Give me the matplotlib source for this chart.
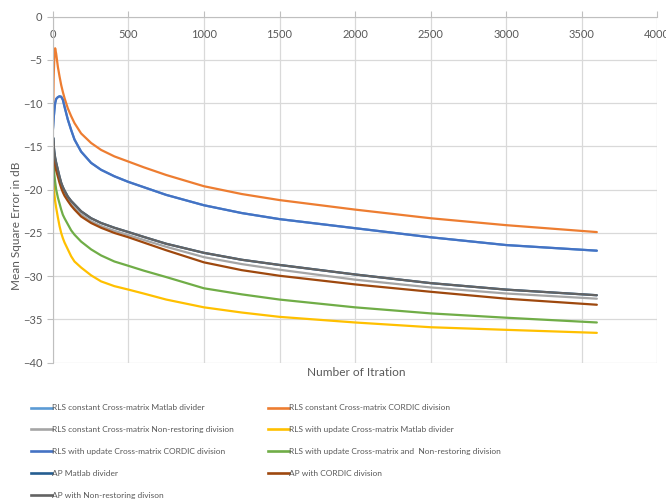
import matplotlib
matplotlib.use("Agg")
import matplotlib.pyplot as plt
from matplotlib.lines import Line2D

plt.rcParams['font.family'] = ['Lato', 'DejaVu Sans']

iterations = [0, 2, 5, 10, 15, 22, 33, 44, 55, 66, 77, 99, 121, 143, 187, 253, 319, 407, 500,
              600, 750, 1000, 1250, 1500, 2000, 2500, 3000, 3600]

rls_const_cordic = [-13.0, -10.5, -7.0, -4.6, -3.65, -4.3, -5.8, -6.9, -7.9, -8.7, -9.4, -10.6, -11.5, -12.3,
                    -13.5, -14.6, -15.4, -16.15, -16.75, -17.4, -18.3, -19.6, -20.5, -21.2, -22.3, -23.3, -24.1, -24.9]
rls_update_cordic = [-13.1, -12.6, -11.8, -10.8, -10.0, -9.5, -9.3, -9.2, -9.25, -9.6, -10.4, -11.9, -13.1, -14.2,
                     -15.6, -16.9, -17.7, -18.45, -19.1, -19.7, -20.6, -21.8, -22.7, -23.4, -24.45, -25.5, -26.4, -27.05]
rls_const_matlab = list(rls_update_cordic)
ap_nonrestoring = [-23.8, -14.0, -14.8, -15.7, -16.3, -16.9, -17.7, -18.5, -19.2, -19.7, -20.1, -20.8, -21.3, -21.7,
                   -22.5, -23.3, -23.85, -24.4, -24.9, -25.45, -26.25, -27.3, -28.1, -28.7, -29.8, -30.8, -31.55, -32.2]
ap_matlab = list(ap_nonrestoring)
rls_const_nonrestoring = [-14.8, -14.5, -15.2, -16.1, -16.8, -17.4, -18.1, -18.9, -19.5, -20.0, -20.5, -21.1, -21.7, -22.1,
                          -22.85, -23.65, -24.2, -24.75, -25.25, -25.8, -26.6, -27.8, -28.6, -29.25, -30.4, -31.3, -32.0, -32.6]
ap_cordic = [-15.0, -15.0, -15.6, -16.5, -17.2, -17.8, -18.5, -19.2, -19.8, -20.3, -20.7, -21.3, -21.85, -22.3,
             -23.1, -23.85, -24.4, -25.0, -25.5, -26.1, -27.0, -28.4, -29.3, -29.95, -30.95, -31.8, -32.6, -33.3]
rls_update_nonrestoring = [-15.5, -16.3, -17.2, -18.3, -19.1, -20.0, -20.9, -21.6, -22.3, -22.9, -23.3, -24.0, -24.7, -25.2,
                           -26.0, -26.9, -27.6, -28.3, -28.8, -29.35, -30.1, -31.4, -32.1, -32.7, -33.6, -34.3, -34.8, -35.35]
rls_update_matlab = [-16.0, -17.5, -19.2, -20.5, -21.3, -22.1, -23.2, -24.2, -25.0, -25.6, -26.1, -26.9, -27.7, -28.3,
                     -29.0, -29.9, -30.6, -31.15, -31.55, -32.0, -32.7, -33.6, -34.2, -34.7, -35.35, -35.9, -36.2, -36.55]

labels = [
    "RLS constant Cross-matrix Matlab divider",
    "RLS constant Cross-matrix CORDIC division",
    "RLS constant Cross-matrix Non-restoring division",
    "RLS with update Cross-matrix Matlab divider",
    "RLS with update Cross-matrix CORDIC division",
    "RLS with update Cross-matrix and  Non-restoring division",
    "AP Matlab divider",
    "AP with CORDIC division",
    "AP with Non-restoring divison",
]
series = [rls_const_matlab, rls_const_cordic, rls_const_nonrestoring, rls_update_matlab,
          rls_update_cordic, rls_update_nonrestoring, ap_matlab, ap_cordic, ap_nonrestoring]
colors = ["#5B9BD5", "#ED7D31", "#A5A5A5", "#FFC000", "#4472C4", "#70AD47", "#255E91", "#9E480E", "#636363"]

x_ticks = [0, 500, 1000, 1500, 2000, 2500, 3000, 3500, 4000]
y_ticks = [0, -5, -10, -15, -20, -25, -30, -35, -40]

fig = plt.figure(figsize=(6.66, 5.0), dpi=100)
ax = fig.add_axes([0.0794, 0.2746, 0.9075, 0.692])

handles = []
for s, c, lab in zip(series, colors, labels):
    ax.plot(iterations, s, color=c, lw=1.6, solid_joinstyle='round', solid_capstyle='round', label=lab)
    handles.append(Line2D([0], [0], color=c, lw=1.9))

ax.set_xlim(0, 4000)
ax.set_ylim(-40, 0)
ax.set_xticks(x_ticks)
ax.set_yticks(y_ticks)
ax.grid(True, color="#D9D9D9", lw=0.9)
ax.set_axisbelow(True)
for sp in ['top', 'right']:
    ax.spines[sp].set_visible(False)
ax.spines['bottom'].set_position(('data', 0))
ax.spines['bottom'].set_color('#BFBFBF')
ax.spines['left'].set_color('#BFBFBF')
ax.tick_params(axis='both', colors='#BFBFBF', labelcolor='#595959', labelsize=8, length=4)
ax.tick_params(axis='x', direction='in', pad=9)
ax.tick_params(axis='y', pad=3.5)

fig.text(356 / 666, 1 - 372 / 500, "Number of Itration", ha='center', va='center', fontsize=8.6, color='#595959')
fig.text(17 / 666, 1 - 226 / 500, "Mean Square Error in dB", ha='center', va='center', rotation=90,
         fontsize=8.5, color='#595959')

col1 = [0, 2, 4, 6, 8]
col2 = [1, 3, 5, 7]
leg_kw = dict(frameon=False, fontsize=6.0, handlelength=2.5, handletextpad=0.05,
              labelspacing=1.78, borderaxespad=0, borderpad=0, labelcolor='#595959')
fig.legend([handles[i] for i in col1], [labels[i] for i in col1], loc='upper left',
           bbox_to_anchor=(31 / 666, 1 - 404.5 / 500), **leg_kw)
fig.legend([handles[i] for i in col2], [labels[i] for i in col2], loc='upper left',
           bbox_to_anchor=(268 / 666, 1 - 404.5 / 500), **leg_kw)

fig.savefig("out.png", dpi=100)
